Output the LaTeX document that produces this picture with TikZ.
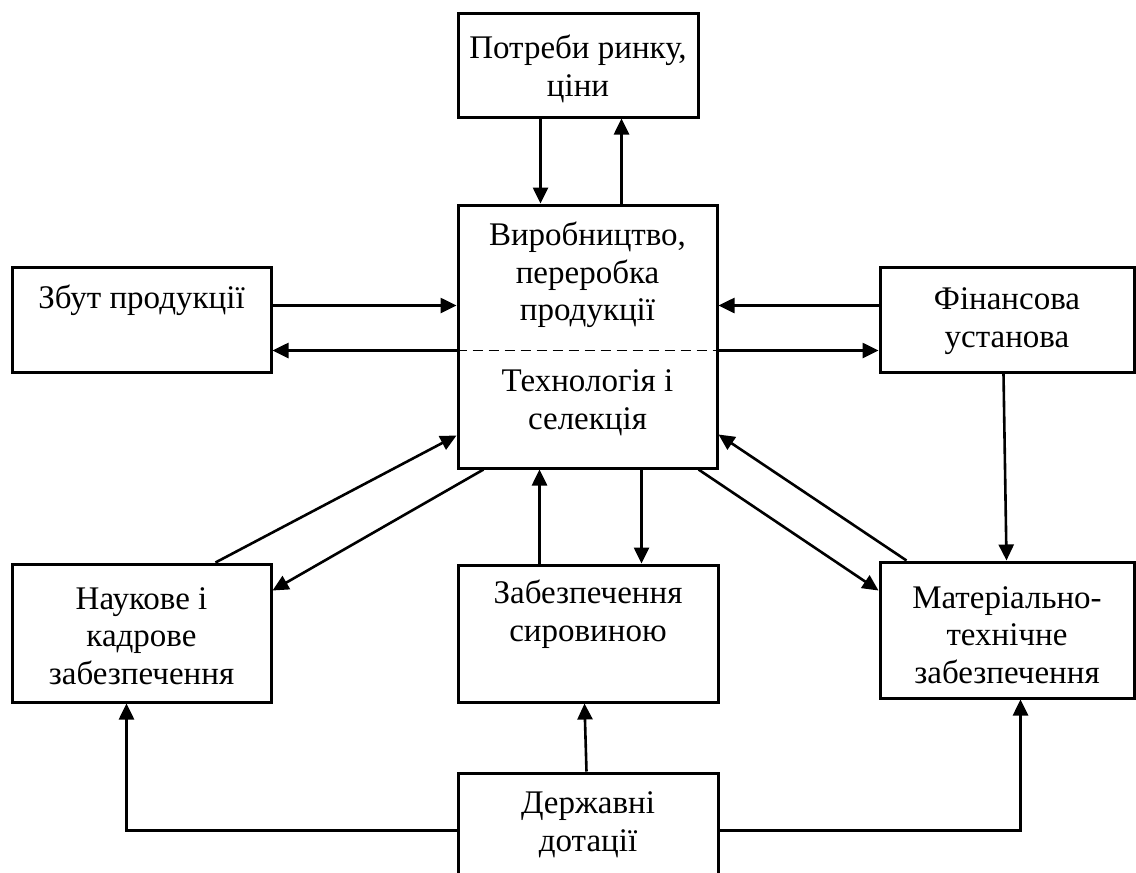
\documentclass[tikz,border=0pt]{standalone}
\usepackage{fontspec}
\setmainfont{Liberation Serif}
\usetikzlibrary{arrows.meta,calc}
\begin{document}
\begin{tikzpicture}[x=1pt,y=-1pt,
  box/.style={draw,line width=3pt,inner sep=0pt,minimum width=#1},
  lbl/.style={align=center,font=\fontsize{33}{37.5}\selectfont,inner sep=0pt},
  arr/.style={line width=2.6pt,-{Triangle[length=16pt,width=15pt]}},
  ln/.style={line width=2.6pt}]
\useasboundingbox (0,0) rectangle (1136,873);
\clip (0,0) rectangle (1136,873);
% boxes
\node[box=240pt,minimum height=104pt] (pot) at (578,65) {};
\node[box=259pt,minimum height=263pt] (cen) at (587.5,336.5) {};
\node[box=259pt,minimum height=105pt] (zbut) at (141.5,319.5) {};
\node[box=254pt,minimum height=105pt] (fin) at (1007,319.5) {};
\node[box=259pt,minimum height=138pt] (nauk) at (141.5,633) {};
\node[box=260pt,minimum height=137pt] (syr) at (588,633.5) {};
\node[box=254pt,minimum height=136pt] (mat) at (1007,630) {};
\node[box=260pt,minimum height=140pt] (derzh) at (588,843) {};
% texts
\node[lbl] (tpot) at (578,69) {Потреби ринку,\\ціни};
\node[lbl] (tcen1) at (587.5,275) {Виробництво,\\переробка\\продукції};
\node[lbl] (tcen2) at (587.5,403) {Технологія і\\селекція};
\node[lbl] (tzbut) at (141.5,300) {Збут продукції};
\node[lbl] (tfin) at (1007,321) {Фінансова\\установа};
\node[lbl] (tnauk) at (141.5,636) {Наукове і\\кадрове\\забезпечення};
\node[lbl] (tsyr) at (588,614) {Забезпечення\\сировиною};
\node[lbl] (tmat) at (1007,635) {Матеріально-\\технічне\\забезпечення};
\node[lbl] (tderzh) at (588,825) {Державні\\дотації};
% dashed divider
\draw[line width=1.4pt,dash pattern=on 10pt off 6pt] ($(cen.north west)+(0,147)$) -- ($(cen.north east)+(0,147)$);
% connectors
\draw[arr] ($(pot.south west)+(84,0)$) -- ($(cen.north west)+(84,0)$);
\draw[arr] ($(cen.north west)+(165,0)$) -- ($(pot.south west)+(165,0)$);
\draw[arr] ($(zbut.north east)+(0,40)$) -- ($(cen.north west)+(0,102)$);
\draw[arr] ($(cen.north west)+(0,147)$) -- ($(zbut.north east)+(0,85)$);
\draw[arr] ($(fin.north west)+(0,40)$) -- ($(cen.north east)+(0,102)$);
\draw[arr] ($(cen.north east)+(0,147)$) -- ($(fin.north west)+(0,85)$);
\draw[arr] ($(fin.south west)+(125,0)$) -- ($(mat.north west)+(128,0)$);
\draw[arr] ($(nauk.north west)+(205,0)$) -- ($(cen.south west)+(0,-34)$);
\draw[arr] ($(cen.south west)+(27,0)$) -- ($(nauk.north east)+(0,28)$);
\draw[arr] ($(syr.north west)+(83,0)$) -- ($(cen.south west)+(83,0)$);
\draw[arr] ($(cen.south west)+(185,0)$) -- ($(syr.north west)+(185,0)$);
\draw[arr] ($(cen.south east)+(-20,0)$) -- ($(mat.north west)+(0,30)$);
\draw[arr] ($(mat.north west)+(28,0)$) -- ($(cen.south east)+(0,-35)$);
\draw[arr] ($(derzh.north west)+(130,0)$) -- ($(syr.south west)+(128,0)$);
\draw[arr] ($(derzh.north west)+(0,59)$) -| ($(nauk.south west)+(116,0)$);
\draw[arr] ($(derzh.north east)+(0,59)$) -| ($(mat.south west)+(142,0)$);
\end{tikzpicture}
\end{document}
